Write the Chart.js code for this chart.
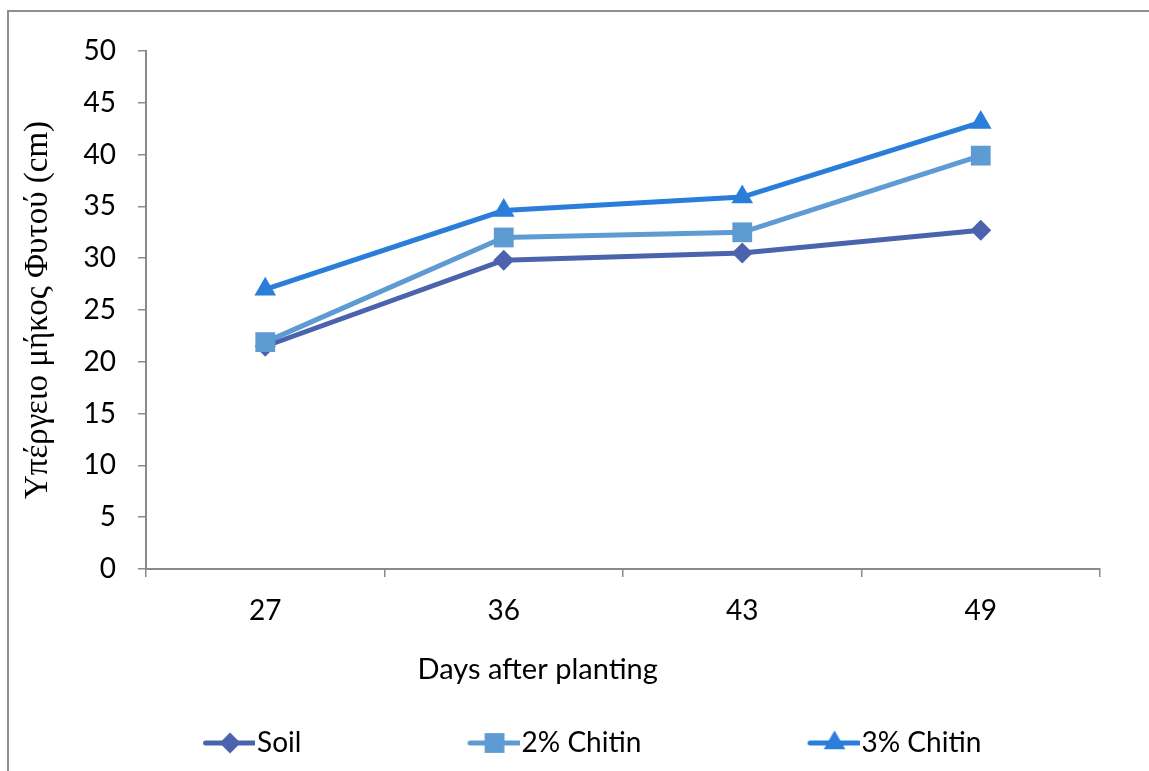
<!DOCTYPE html>
<html>
<head>
<meta charset="utf-8">
<title>Υπέργειο μήκος Φυτού</title>
<script src="https://cdn.jsdelivr.net/npm/chart.js@4.4.1/dist/chart.umd.min.js"></script>
<style>
  html, body { margin: 0; padding: 0; background: #ffffff; }
  #wrap { position: relative; width: 1149px; height: 771px; overflow: hidden; }
  #frame {
    position: absolute; left: 7px; top: 10px; right: -4px; bottom: -4px;
    border-top: 2px solid #8e8e8e; border-left: 2px solid #8e8e8e;
    pointer-events: none;
  }
  canvas { display: block; }
</style>
</head>
<body>
<div id="wrap">
  <canvas id="chart" width="1149" height="771"></canvas>
  <div id="frame"></div>
</div>
<script>
// ---- data -------------------------------------------------------------
const days = ['27', '36', '43', '49'];
const soil = [21.5, 29.8, 30.5, 32.7];
const chitin2 = [21.9, 32.0, 32.5, 39.9];
const chitin3 = [27.0, 34.6, 35.9, 43.1];

const seriesNames = ['Soil', '2% Chitin', '3% Chitin'];
const yTicks = [0, 5, 10, 15, 20, 25, 30, 35, 40, 45, 50];
const yTitle = 'Υπέργειο μήκος Φυτού (cm)';
const xTitle = 'Days after planting';

// ---- styles -----------------------------------------------------------
const colors = ['#4A63AC', '#5E9BD3', '#2A7DD8'];
const markers = ['rectRot', 'rect', 'triangle'];
const markerRadius = [10.5, 14, 12.5];
const sansFont = "Lato, 'Open Sans', 'Noto Sans', sans-serif";
const serifFont = "'Liberation Serif', 'DejaVu Serif', serif";
const FS = 28;            // tick / legend / x-title size
const LEG_PAD = 20;       // legend padding
const LEG_BOX = 50;       // legend symbol box width
const axisGray = '#8a8a8a';

// measuring helper: append blanks so text occupies `extra` more pixels
const measureCtx = document.createElement('canvas').getContext('2d');
function padRight(text, font, extra) {
  measureCtx.font = font;
  const base = measureCtx.measureText(text).width;
  let t = text;
  while (measureCtx.measureText(t).width - base < extra) t += ' ';
  return t;
}

// legend symbol: short line with the series marker in its middle
function legendIcon(i) {
  const c = document.createElement('canvas');
  c.width = 74; c.height = 30;
  const g = c.getContext('2d');
  g.strokeStyle = colors[i];
  g.lineWidth = 5;
  g.lineCap = 'round';
  g.beginPath();
  g.moveTo(24.5, 15);
  g.lineTo(73, 15);
  g.stroke();
  g.fillStyle = colors[i];
  g.strokeStyle = colors[i];
  if (Chart.helpers && Chart.helpers.drawPoint) {
    Chart.helpers.drawPoint(g, { pointStyle: markers[i], radius: markerRadius[i], rotation: 0, borderWidth: 0 }, 49, 15);
  }
  return c;
}

const legendFont = `${FS}px ${sansFont}`;
const legendTexts = [
  padRight(seriesNames[0], legendFont, 130),
  padRight(seriesNames[1], legendFont, 130),
  padRight(seriesNames[2], legendFont, 66)
];

const seriesData = [soil, chitin2, chitin3];
const datasets = seriesData.map((vals, i) => ({
  label: seriesNames[i],
  data: vals,
  borderColor: colors[i],
  backgroundColor: colors[i],
  borderWidth: 5,
  tension: 0,
  pointStyle: markers[i],
  pointRadius: markerRadius[i],
  pointHoverRadius: markerRadius[i],
  pointBackgroundColor: colors[i],
  pointBorderColor: colors[i],
  pointBorderWidth: 0,
  order: seriesData.length - i
}));

Chart.defaults.font.family = sansFont;
Chart.defaults.color = '#000000';

new Chart(document.getElementById('chart'), {
  type: 'line',
  data: { labels: days, datasets },
  options: {
    responsive: false,
    animation: false,
    devicePixelRatio: 1,
    layout: { padding: { top: 51, right: 49, bottom: 4, left: 0 } },
    plugins: {
      tooltip: { enabled: false },
      legend: {
        position: 'bottom',
        fullSize: false,
        labels: {
          font: { size: FS, family: sansFont },
          color: '#000000',
          padding: LEG_PAD,
          usePointStyle: true,
          pointStyleWidth: LEG_BOX,
          boxHeight: FS,
          generateLabels: () => seriesNames.map((n, i) => ({
            text: legendTexts[i],
            pointStyle: legendIcon(i),
            fillStyle: colors[i],
            strokeStyle: colors[i],
            lineWidth: 0,
            hidden: false,
            datasetIndex: i,
            fontColor: '#000000'
          }))
        }
      }
    },
    scales: {
      x: {
        type: 'category',
        offset: true,
        border: { display: true, color: axisGray, width: 2 },
        grid: { display: true, drawOnChartArea: false, drawTicks: true, tickLength: 8, offset: true, color: axisGray, lineWidth: 1.5 },
        ticks: { font: { size: FS }, color: '#000000', padding: 17, maxRotation: 0 },
        title: {
          display: true,
          text: padRight(xTitle, `29px ${sansFont}`, 164),
          font: { size: 29, family: sansFont },
          color: '#000000',
          padding: { top: 4, bottom: 22 }
        },
        afterFit: (s) => { s.height = 140; }
      },
      y: {
        min: 0,
        max: 50,
        border: { display: true, color: axisGray, width: 2 },
        grid: { display: true, drawOnChartArea: false, drawTicks: true, tickLength: 8, color: axisGray, lineWidth: 1.5 },
        afterBuildTicks: (s) => { s.ticks = yTicks.map(v => ({ value: v })); },
        ticks: { font: { size: FS }, color: '#000000', padding: 22 },
        title: {
          display: true,
          text: yTitle,
          font: { size: 33, family: serifFont },
          color: '#000000',
          padding: { top: 19, bottom: 0 }
        },
        afterFit: (s) => { s.width = 146; }
      }
    }
  }
});
</script>
</body>
</html>
